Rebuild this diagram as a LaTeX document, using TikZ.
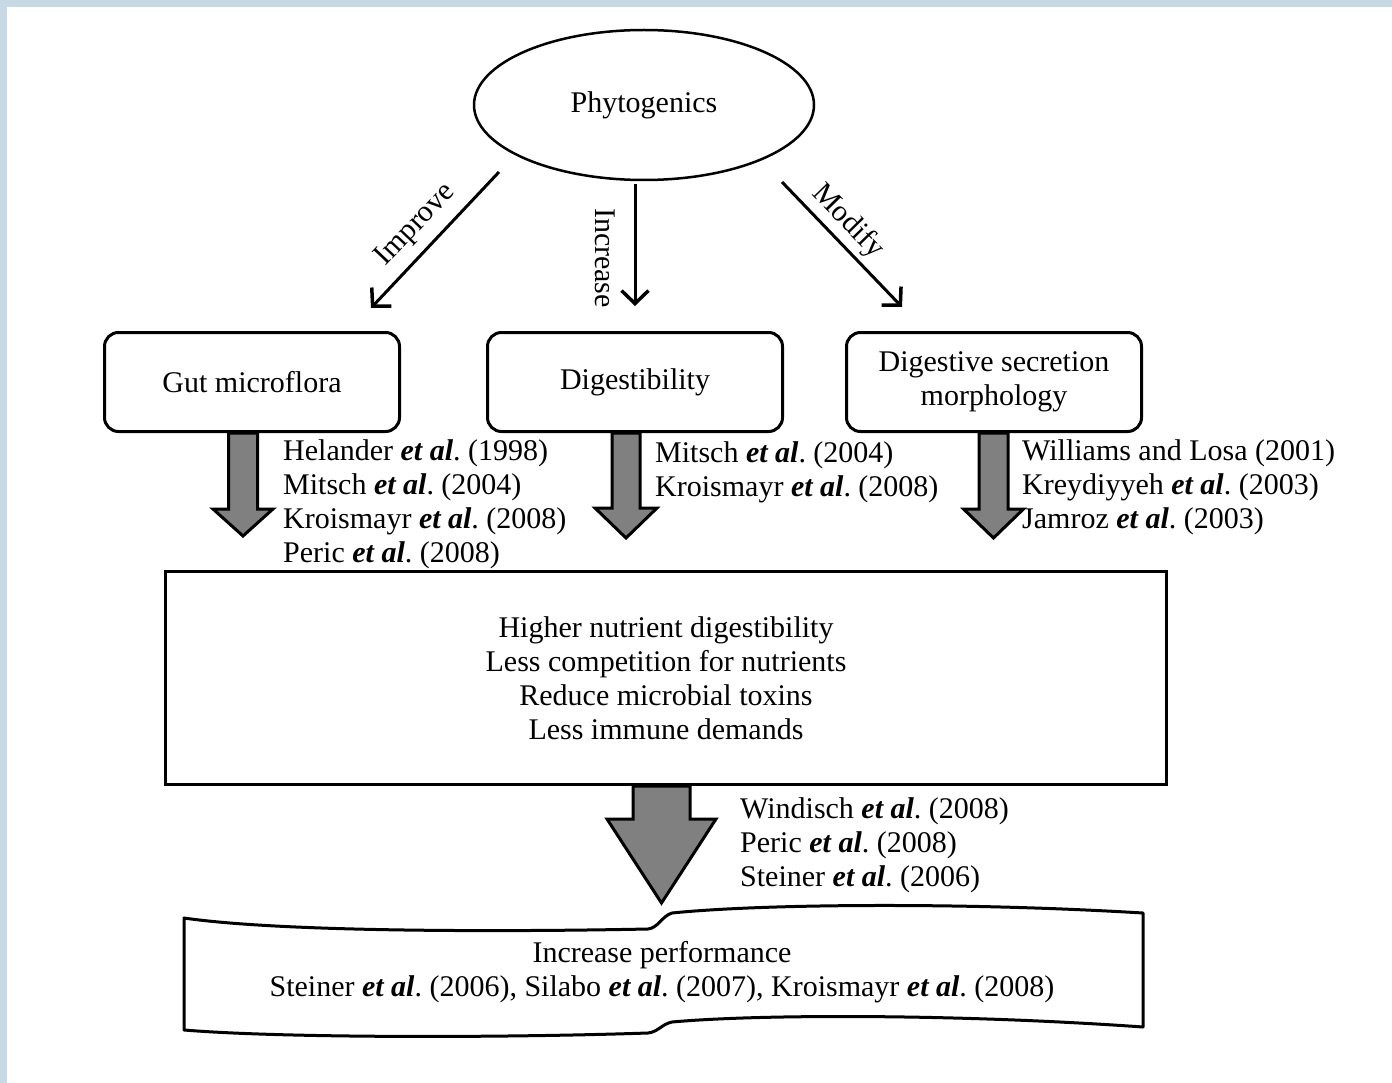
\documentclass[tikz,border=0pt]{standalone}
\usepackage{fontspec}
\setmainfont{Liberation Serif}
\usetikzlibrary{arrows.meta,shapes.geometric,calc}
\definecolor{framebl}{HTML}{C8D9E6}
\frenchspacing
\newcommand{\etal}{\textbf{\textit{et al}}}
\newcommand{\fatarrow}[5]{%
  \draw[fat, shift={(#1)}] (-#2,0) -- (-#2,#4-#5) -- (-#3,#4-#5) -- (0,#4)
    -- (#3,#4-#5) -- (#2,#4-#5) -- (#2,0) -- cycle;}

\begin{document}
\begin{tikzpicture}[x=1pt, y=-1pt,
  every node/.style={font=\fontsize{30}{34}\selectfont},
  link/.style={-{Straight Barb[length=13pt,width=27pt,line width=3.5pt]}, line width=3pt},
  topic/.style={draw, line width=3pt, rounded corners=14pt, minimum width=295pt,
    minimum height=99pt, align=center, inner sep=0pt},
  fat/.style={draw, line width=3pt, fill=gray, line join=miter},
  cite/.style={anchor=base west, inner sep=0pt}]
\path[use as bounding box] (0,0) rectangle (1392,1083);
\fill[framebl] (0,0) rectangle (1392,7);
\fill[framebl] (0,0) rectangle (7,1083);

\node[ellipse, draw, line width=2.5pt, minimum width=340pt, minimum height=150pt] (phy) at (644,105) {Phytogenics};
\node[topic] (gut) at (252,382) {Gut microflora};
\node[topic] (dig) at (635,382) {Digestibility};
\node[topic] (sec) at (994,382) {Digestive secretion\\morphology};
\node[draw, line width=3pt, minimum width=1001pt, minimum height=213pt, align=center] (res) at (666,678)
  {Higher nutrient digestibility\\Less competition for nutrients\\Reduce microbial toxins\\Less immune demands};
\node[align=center] (perf) at (662,972)
  {Increase performance\\Steiner \etal. (2006), Silabo \etal. (2007), Kroismayr \etal. (2008)};

\coordinate (impA) at (499,172);
\coordinate (impB) at (371,308);
\coordinate (incA) at (635,184);
\coordinate (incB) at (635,306);
\coordinate (modA) at (782,182);
\coordinate (modB) at (902,307);
\draw[link] (impA) -- (impB);
\draw[link] (incA) -- (incB);
\draw[link] (modA) -- (modB);
\node[rotate=46.5] (implbl) at (416,225) {Improve};
\node[rotate=-90] (inclbl) at (605,258) {Increase};
\node[rotate=-45.7] (modlbl) at (848,222) {Modify};

\fatarrow{$(gut.south)+(-9,0)$}{14.5}{30}{103}{27}
\fatarrow{$(dig.south)+(-9,0)$}{14}{31}{105}{30}
\fatarrow{$(sec.south)+(-0.5,0)$}{14.5}{30}{105}{29}
\fatarrow{$(res.south)+(-4.5,0)$}{28.5}{54.5}{117}{84}

\foreach \txt [count=\i from 0] in {Helander \etal. (1998), Mitsch \etal. (2004),
    Kroismayr \etal. (2008), Peric \etal. (2008)}
  \node[cite] (gutref\i) at (283,460+34*\i) {\txt};
\foreach \txt [count=\i from 0] in {Mitsch \etal. (2004), Kroismayr \etal. (2008)}
  \node[cite] (digref\i) at (655,462+34*\i) {\txt};
\foreach \txt [count=\i from 0] in {Williams and Losa (2001), Kreydiyyeh \etal. (2003),
    Jamroz \etal. (2003)}
  \node[cite] (secref\i) at (1022,460+34*\i) {\txt};
\foreach \txt [count=\i from 0] in {Windisch \etal. (2008), Peric \etal. (2008),
    Steiner \etal. (2006)}
  \node[cite] (resref\i) at (740,818+34*\i) {\txt};

\draw[line width=3pt, line join=round]
  (184,918) .. controls (280,932) and (500,932) .. (648,929)
  .. controls (658,928) and (662,916) .. (672,913)
  .. controls (760,904) and (960,902) .. (1143,913)
  -- (1143,1027)
  .. controls (960,1014) and (760,1014) .. (672,1022)
  .. controls (662,1024) and (658,1032) .. (648,1033)
  .. controls (500,1038) and (280,1038) .. (184,1030) -- cycle;
\end{tikzpicture}
\end{document}
